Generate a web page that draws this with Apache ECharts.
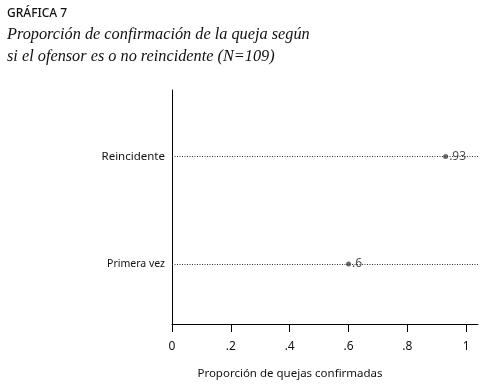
<!DOCTYPE html>
<html><head><meta charset="utf-8">
<script src="https://cdn.jsdelivr.net/npm/echarts@6/dist/echarts.min.js"></script>
<style>html,body{margin:0;padding:0;background:#fff}#c{width:481px;height:385px}</style>
</head><body><div id="c"></div>
<script>
const categories = ['Primera vez', 'Reincidente'];
const values = [0.6, 0.93];
const xTicks = [0, 0.2, 0.4, 0.6, 0.8, 1];

const fmt = v => v === 0 ? '0' : (v === 1 ? '1' : String(v).replace(/^0/, ''));
const chart = echarts.init(document.getElementById('c'), null, {renderer: 'canvas'});
const font = '"Noto Sans", sans-serif';
chart.setOption({
  animation: false,
  title: [
    {text: 'GRÁFICA 7', left: 2, top: 3, textStyle: {fontFamily: font, fontSize: 12, fontWeight: 500, color: '#111'}},
    {text: 'Proporción de confirmación de la queja según\nsi el ofensor es o no reincidente (N=109)', left: 2, top: 19,
     textStyle: {fontFamily: '"Liberation Serif", serif', fontStyle: 'italic', fontSize: 16.3, fontWeight: 'normal', color: '#111', lineHeight: 22}}
  ],
  grid: {left: 172, right: 3, top: 90, bottom: 57},
  xAxis: {
    type: 'value', min: 0, max: 1.04,
    name: 'Proporción de quejas confirmadas', nameLocation: 'middle', nameGap: 44,
    nameTextStyle: {fontFamily: font, fontSize: 11.5, color: '#111', padding: [0, 70, 0, 0]},
    axisLine: {show: true, lineStyle: {color: '#000', width: 1}},
    axisTick: {show: true, length: 8, lineStyle: {color: '#000'}, customValues: xTicks},
    axisLabel: {customValues: xTicks, formatter: fmt, fontFamily: font, fontSize: 12, color: '#111', margin: 17},
    splitLine: {show: false}
  },
  yAxis: {
    type: 'value', min: 0.44, max: 2.62,
    axisLine: {show: true, lineStyle: {color: '#000', width: 1}},
    axisTick: {show: false},
    axisLabel: {customValues: [1, 2], margin: 7,
      formatter: v => { const i = Math.round(v) - 1; return i === 0 ? '{s|' + categories[i] + '}' : '{b|' + (categories[i] || '') + '}'; },
      rich: {
        s: {fontFamily: font, fontSize: 10.5, color: '#111'},
        b: {fontFamily: font, fontSize: 11.5, color: '#111'}
      }},
    splitLine: {show: false}
  },
  series: [{
    type: 'scatter',
    data: values.map((v, i) => [v, i + 1]),
    symbol: 'circle', symbolSize: 5,
    itemStyle: {color: '#444'},
    label: {show: true, position: 'right', distance: 1, formatter: p => fmt(p.value[0]), fontFamily: font, fontSize: 12, color: '#222'},
    markLine: {
      silent: true, symbol: 'none', label: {show: false},
      lineStyle: {color: '#333', type: [1, 1.5], width: 1},
      data: categories.map((c, i) => ({yAxis: i + 1}))
    },
    z: 3
  }]
});
</script></body></html>
